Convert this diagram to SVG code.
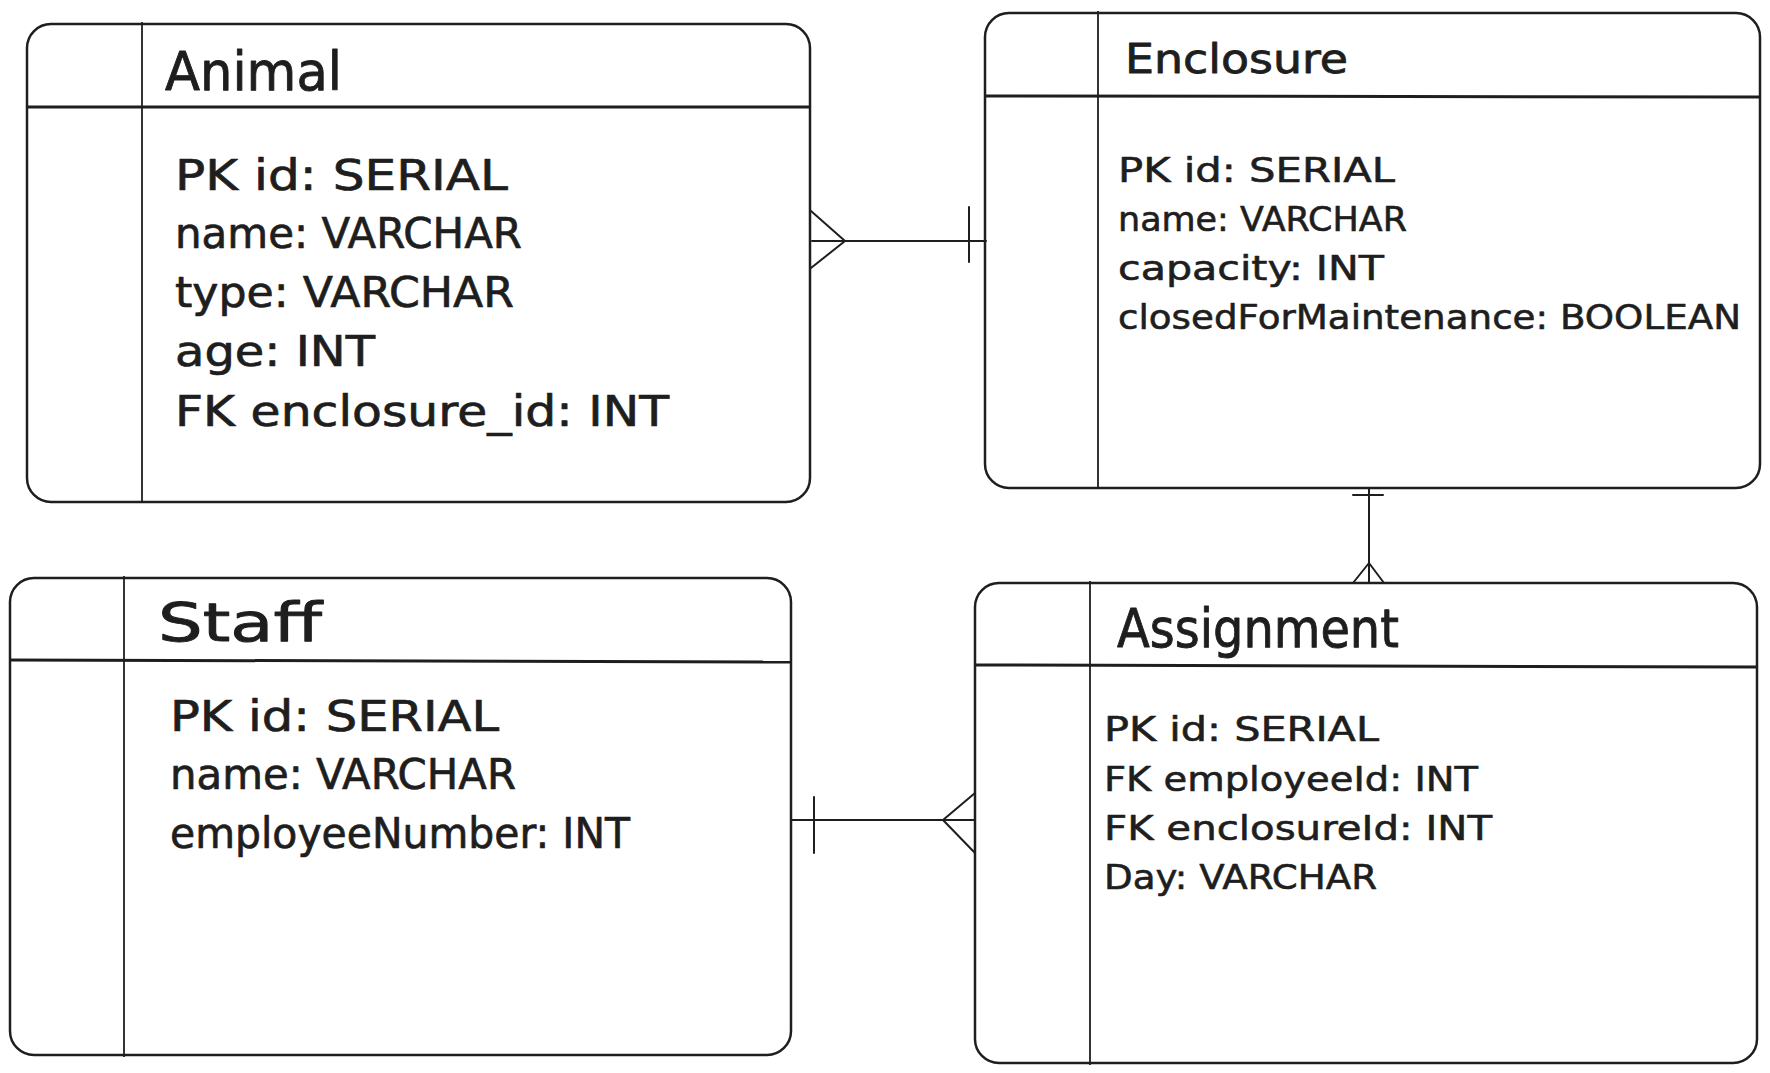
<svg xmlns="http://www.w3.org/2000/svg" width="1770" height="1073" viewBox="0 0 1770 1073">
  <style>
    .box { fill: #ffffff; stroke: #1e1e1e; stroke-width: 2.5; }
    .hdr { stroke: #1e1e1e; stroke-width: 3; fill: none; }
    .col { stroke: #1e1e1e; stroke-width: 1.8; fill: none; }
    .conn { stroke: #1e1e1e; stroke-width: 2; fill: none; stroke-linecap: round; stroke-linejoin: round; }
    text { font-family: "DejaVu Sans", "Liberation Sans", sans-serif; fill: #1e1e1e; stroke: #1e1e1e; stroke-width: 0.7; stroke-linejoin: round; }
    .title { font-size: 54px; stroke-width: 0.9; }
    .title-s { font-size: 40px; stroke-width: 0.8; }
    .row-l { font-size: 42px; }
    .row-s { font-size: 34px; stroke-width: 0.6; }
  </style>
  <rect width="1770" height="1073" fill="#ffffff"/>

  <g id="animal">
    <rect class="box" x="27" y="24" width="783" height="478" rx="24" ry="24"/>
    <line class="hdr" x1="27" y1="107" x2="810" y2="107"/>
    <line class="col" x1="142" y1="22" x2="142" y2="503"/>
    <text class="title" x="165" y="90" textLength="177" lengthAdjust="spacingAndGlyphs">Animal</text>
    <text class="row-l" x="175" y="190" textLength="333" lengthAdjust="spacingAndGlyphs">PK id: SERIAL</text>
    <text class="row-l" x="175" y="248" textLength="347" lengthAdjust="spacingAndGlyphs">name: VARCHAR</text>
    <text class="row-l" x="175" y="307" textLength="339" lengthAdjust="spacingAndGlyphs">type: VARCHAR</text>
    <text class="row-l" x="175" y="366" textLength="200" lengthAdjust="spacingAndGlyphs">age: INT</text>
    <text class="row-l" x="175" y="426" textLength="494" lengthAdjust="spacingAndGlyphs">FK enclosure_id: INT</text>
  </g>

  <g id="enclosure">
    <rect class="box" x="985" y="13" width="775" height="475" rx="24" ry="24"/>
    <line class="hdr" x1="985" y1="96" x2="1760" y2="97"/>
    <line class="col" x1="1098" y1="11" x2="1098" y2="489"/>
    <text class="title-s" x="1125" y="73" textLength="223" lengthAdjust="spacingAndGlyphs">Enclosure</text>
    <text class="row-s" x="1118" y="182" textLength="277" lengthAdjust="spacingAndGlyphs">PK id: SERIAL</text>
    <text class="row-s" x="1118" y="231" textLength="289" lengthAdjust="spacingAndGlyphs">name: VARCHAR</text>
    <text class="row-s" x="1118" y="280" textLength="266" lengthAdjust="spacingAndGlyphs">capacity: INT</text>
    <text class="row-s" x="1118" y="329" textLength="623" lengthAdjust="spacingAndGlyphs">closedForMaintenance: BOOLEAN</text>
  </g>

  <g id="staff">
    <rect class="box" x="10" y="578" width="781" height="477" rx="24" ry="24"/>
    <line class="hdr" x1="10" y1="660" x2="791" y2="662"/>
    <line class="col" x1="124" y1="576" x2="124" y2="1057"/>
    <text class="title" x="158" y="641" textLength="164" lengthAdjust="spacingAndGlyphs">Staff</text>
    <text class="row-l" x="170" y="731" textLength="329" lengthAdjust="spacingAndGlyphs">PK id: SERIAL</text>
    <text class="row-l" x="170" y="789" textLength="346" lengthAdjust="spacingAndGlyphs">name: VARCHAR</text>
    <text class="row-l" x="170" y="848" textLength="460" lengthAdjust="spacingAndGlyphs">employeeNumber: INT</text>
  </g>

  <g id="assignment">
    <rect class="box" x="975" y="583" width="782" height="480" rx="24" ry="24"/>
    <line class="hdr" x1="975" y1="665" x2="1757" y2="667"/>
    <line class="col" x1="1090" y1="581" x2="1090" y2="1065"/>
    <text class="title" x="1117" y="647" textLength="282" lengthAdjust="spacingAndGlyphs">Assignment</text>
    <text class="row-s" x="1104" y="741" textLength="275" lengthAdjust="spacingAndGlyphs">PK id: SERIAL</text>
    <text class="row-s" x="1104" y="791" textLength="374" lengthAdjust="spacingAndGlyphs">FK employeeId: INT</text>
    <text class="row-s" x="1104" y="840" textLength="388" lengthAdjust="spacingAndGlyphs">FK enclosureId: INT</text>
    <text class="row-s" x="1104" y="889" textLength="273" lengthAdjust="spacingAndGlyphs">Day: VARCHAR</text>
  </g>

  <g id="connectors">
    <!-- Animal (many) to Enclosure (one) -->
    <line class="conn" x1="812" y1="241" x2="986" y2="241"/>
    <polyline class="conn" points="811,211 845,241 811,268"/>
    <line class="conn" x1="969" y1="207" x2="969" y2="262"/>
    <!-- Enclosure (one) to Assignment (many) -->
    <line class="conn" x1="1369" y1="488" x2="1369" y2="583"/>
    <line class="conn" x1="1353" y1="495" x2="1383" y2="495"/>
    <polyline class="conn" points="1353,583 1369,563 1384,583"/>
    <!-- Staff (one) to Assignment (many) -->
    <line class="conn" x1="791" y1="820" x2="975" y2="820"/>
    <line class="conn" x1="814" y1="797" x2="814" y2="853"/>
    <polyline class="conn" points="975,793 943,820 975,853"/>
  </g>
</svg>
